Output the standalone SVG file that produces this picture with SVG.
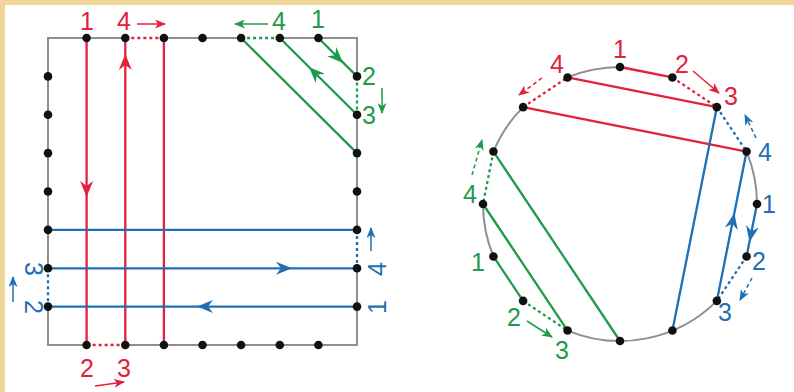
<svg xmlns="http://www.w3.org/2000/svg" xmlns:xlink="http://www.w3.org/1999/xlink" width="794" height="392" viewBox="0 0 794 392">
<style>
.edge{fill:none;stroke:#8e8e8e;stroke-width:2}
.r{stroke:#e2213a}
.g{stroke:#1f9a4a}
.b{stroke:#1f6fb2}
.ln{fill:none;stroke-width:2.3}
.dot{fill:none;stroke-width:2.3;stroke-dasharray:3 3}
.sm{fill:none;stroke-width:1.5}
.dash{stroke-dasharray:4 3}
.pt{fill:#111}
text{font-family:"Liberation Sans",Arial,sans-serif;font-size:25px;text-anchor:middle}
.tr{fill:#e2213a}.tg{fill:#1f9a4a}.tb{fill:#1f6fb2}
</style>
<defs>
<path id="ah" d="M0,0 L-16,-6.5 L-11,0 L-16,6.5 Z"/>
<marker id="mr" markerUnits="userSpaceOnUse" markerWidth="11" markerHeight="9" refX="10" refY="4.5" orient="auto"><path d="M0,0 L11,4.5 L0,9 L3,4.5 Z" fill="#e2213a"/></marker>
<marker id="mg" markerUnits="userSpaceOnUse" markerWidth="11" markerHeight="9" refX="10" refY="4.5" orient="auto"><path d="M0,0 L11,4.5 L0,9 L3,4.5 Z" fill="#1f9a4a"/></marker>
<marker id="mb" markerUnits="userSpaceOnUse" markerWidth="11" markerHeight="9" refX="10" refY="4.5" orient="auto"><path d="M0,0 L11,4.5 L0,9 L3,4.5 Z" fill="#1f6fb2"/></marker>
</defs>
<rect width="794" height="392" fill="#ffffff"/>
<rect width="794" height="5" fill="#efd597"/>
<rect width="5" height="392" fill="#efd597"/>

<g id="square">
<g id="square-outline">
<path class="edge" d="M125.3,38 L48,38 L48,268.3 M48,306.6 L48,345 L86.6,345 M125.3,345 L357,345 L357,268.3 M357,229.9 L357,114.8 M357,76.4 L357,38 L279.8,38 M241.1,38 L163.9,38"/>
</g>
<g id="square-connectors">
<line class="ln r" x1="86.6" y1="38" x2="86.6" y2="345"/>
<line class="ln r" x1="125.3" y1="38" x2="125.3" y2="345"/>
<line class="ln r" x1="163.9" y1="38" x2="163.9" y2="345"/>
<line class="dot r" x1="125.3" y1="38" x2="163.9" y2="38"/>
<line class="dot r" x1="86.6" y1="345" x2="125.3" y2="345"/>
<line class="ln g" x1="318.4" y1="38" x2="357" y2="76.4"/>
<line class="ln g" x1="279.8" y1="38" x2="357" y2="114.8"/>
<line class="ln g" x1="241.1" y1="38" x2="357" y2="153.1"/>
<line class="dot g" x1="241.1" y1="38" x2="279.8" y2="38"/>
<line class="dot g" x1="357" y1="76.4" x2="357" y2="114.8"/>
<line class="ln b" x1="48" y1="229.9" x2="357" y2="229.9"/>
<line class="ln b" x1="48" y1="268.3" x2="357" y2="268.3"/>
<line class="ln b" x1="48" y1="306.6" x2="357" y2="306.6"/>
<line class="dot b" x1="357" y1="229.9" x2="357" y2="268.3"/>
<line class="dot b" x1="48" y1="268.3" x2="48" y2="306.6"/>
<use href="#ah" fill="#e2213a" transform="translate(86.6,197) rotate(90)"/>
<use href="#ah" fill="#e2213a" transform="translate(125.3,54) rotate(-90)"/>
<use href="#ah" fill="#1f9a4a" transform="translate(343,63) rotate(45)"/>
<use href="#ah" fill="#1f9a4a" transform="translate(309,67) rotate(-135)"/>
<use href="#ah" fill="#1f6fb2" transform="translate(292,268.3)"/>
<use href="#ah" fill="#1f6fb2" transform="translate(197,306.6) rotate(180)"/>
<line class="sm r" x1="137" y1="24" x2="165" y2="24" marker-end="url(#mr)"/>
<line class="sm r" x1="95" y1="386" x2="124" y2="382" marker-end="url(#mr)"/>
<line class="sm g" x1="268" y1="24" x2="235" y2="24" marker-end="url(#mg)"/>
<line class="sm g" x1="382" y1="88" x2="382" y2="113" marker-end="url(#mg)"/>
<line class="sm b" x1="371" y1="251" x2="371" y2="228" marker-end="url(#mb)"/>
<line class="sm b" x1="13" y1="302" x2="13" y2="277" marker-end="url(#mb)"/>
</g>
<g id="square-points">
<circle class="pt" cx="86.6" cy="38" r="4.3"/><circle class="pt" cx="125.3" cy="38" r="4.3"/><circle class="pt" cx="163.9" cy="38" r="4.3"/><circle class="pt" cx="202.5" cy="38" r="4.3"/><circle class="pt" cx="241.1" cy="38" r="4.3"/><circle class="pt" cx="279.8" cy="38" r="4.3"/><circle class="pt" cx="318.4" cy="38" r="4.3"/>
<circle class="pt" cx="86.6" cy="345" r="4.3"/><circle class="pt" cx="125.3" cy="345" r="4.3"/><circle class="pt" cx="163.9" cy="345" r="4.3"/><circle class="pt" cx="202.5" cy="345" r="4.3"/><circle class="pt" cx="241.1" cy="345" r="4.3"/><circle class="pt" cx="279.8" cy="345" r="4.3"/><circle class="pt" cx="318.4" cy="345" r="4.3"/>
<circle class="pt" cx="48" cy="76.4" r="4.3"/><circle class="pt" cx="48" cy="114.8" r="4.3"/><circle class="pt" cx="48" cy="153.1" r="4.3"/><circle class="pt" cx="48" cy="191.5" r="4.3"/><circle class="pt" cx="48" cy="229.9" r="4.3"/><circle class="pt" cx="48" cy="268.3" r="4.3"/><circle class="pt" cx="48" cy="306.6" r="4.3"/>
<circle class="pt" cx="357" cy="76.4" r="4.3"/><circle class="pt" cx="357" cy="114.8" r="4.3"/><circle class="pt" cx="357" cy="153.1" r="4.3"/><circle class="pt" cx="357" cy="191.5" r="4.3"/><circle class="pt" cx="357" cy="229.9" r="4.3"/><circle class="pt" cx="357" cy="268.3" r="4.3"/><circle class="pt" cx="357" cy="306.6" r="4.3"/>
</g>
<g id="square-labels">
<text class="tr" x="87" y="30">1</text>
<text class="tr" x="124" y="30">4</text>
<text class="tg" x="279" y="30">4</text>
<text class="tg" x="318" y="28">1</text>
<text class="tg" x="369" y="85">2</text>
<text class="tg" x="369" y="124">3</text>
<text class="tr" x="87" y="377">2</text>
<text class="tr" x="124" y="377">3</text>
<text class="tb" transform="translate(377,269) rotate(-90)" y="9">4</text>
<text class="tb" transform="translate(377,307) rotate(-90)" y="9">1</text>
<text class="tb" transform="translate(34,269) rotate(90)" y="9">3</text>
<text class="tb" transform="translate(34,307) rotate(90)" y="9">2</text>
</g>
</g>

<g id="circle">
<g id="circle-outline">
<path class="edge" d="M746.57,151.57 A137,137 0 0 1 757,204 M567.57,77.43 A137,137 0 0 1 620,67 M493.43,151.57 A137,137 0 0 1 523.13,107.13 M493.43,256.43 A137,137 0 0 1 483,204 M716.87,300.87 A137,137 0 0 1 567.57,330.57"/>
</g>
<g id="circle-connectors">
<line class="ln r" x1="620" y1="67" x2="672.43" y2="77.43"/>
<line class="ln r" x1="567.57" y1="77.43" x2="716.87" y2="107.13"/>
<line class="ln r" x1="523.13" y1="107.13" x2="746.57" y2="151.57"/>
<line class="dot r" x1="672.43" y1="77.43" x2="716.87" y2="107.13"/>
<line class="dot r" x1="523.13" y1="107.13" x2="567.57" y2="77.43"/>
<line class="ln g" x1="493.43" y1="256.43" x2="523.13" y2="300.87"/>
<line class="ln g" x1="567.57" y1="330.57" x2="483" y2="204"/>
<line class="ln g" x1="493.43" y1="151.57" x2="620" y2="341"/>
<line class="dot g" x1="493.43" y1="151.57" x2="483" y2="204"/>
<line class="dot g" x1="523.13" y1="300.87" x2="567.57" y2="330.57"/>
<line class="ln b" x1="757" y1="204" x2="746.57" y2="256.43"/>
<line class="ln b" x1="716.87" y1="300.87" x2="746.57" y2="151.57"/>
<line class="ln b" x1="672.43" y1="330.57" x2="716.87" y2="107.13"/>
<line class="dot b" x1="716.87" y1="107.13" x2="746.57" y2="151.57"/>
<line class="dot b" x1="746.57" y1="256.43" x2="716.87" y2="300.87"/>
<use href="#ah" fill="#1f6fb2" transform="translate(749.4,242) rotate(101.25)"/>
<use href="#ah" fill="#1f6fb2" transform="translate(734.4,213) rotate(-78.75)"/>
<line class="sm r" x1="693" y1="71" x2="719" y2="93" marker-end="url(#mr)"/>
<line class="sm r dash" x1="542" y1="78" x2="519" y2="95" marker-end="url(#mr)"/>
<line class="sm g dash" x1="472" y1="175" x2="482" y2="140" marker-end="url(#mg)"/>
<line class="sm g" x1="527" y1="321" x2="552" y2="337" marker-end="url(#mg)"/>
<line class="sm b dash" x1="756" y1="138" x2="745" y2="115" marker-end="url(#mb)"/>
<line class="sm b dash" x1="752" y1="278" x2="740" y2="300" marker-end="url(#mb)"/>
</g>
<g id="circle-points">
<circle class="pt" cx="757" cy="204" r="4.3"/><circle class="pt" cx="746.57" cy="256.43" r="4.3"/><circle class="pt" cx="716.87" cy="300.87" r="4.3"/><circle class="pt" cx="672.43" cy="330.57" r="4.3"/>
<circle class="pt" cx="620" cy="341" r="4.3"/><circle class="pt" cx="567.57" cy="330.57" r="4.3"/><circle class="pt" cx="523.13" cy="300.87" r="4.3"/><circle class="pt" cx="493.43" cy="256.43" r="4.3"/>
<circle class="pt" cx="483" cy="204" r="4.3"/><circle class="pt" cx="493.43" cy="151.57" r="4.3"/><circle class="pt" cx="523.13" cy="107.13" r="4.3"/><circle class="pt" cx="567.57" cy="77.43" r="4.3"/>
<circle class="pt" cx="620" cy="67" r="4.3"/><circle class="pt" cx="672.43" cy="77.43" r="4.3"/><circle class="pt" cx="716.87" cy="107.13" r="4.3"/><circle class="pt" cx="746.57" cy="151.57" r="4.3"/>
</g>
<g id="circle-labels">
<text class="tr" x="620" y="58">1</text>
<text class="tr" x="682" y="73">2</text>
<text class="tr" x="731" y="105">3</text>
<text class="tr" x="557" y="73">4</text>
<text class="tb" x="765" y="161">4</text>
<text class="tb" x="769" y="213">1</text>
<text class="tb" x="759" y="270">2</text>
<text class="tb" x="725" y="321">3</text>
<text class="tg" x="470" y="203">4</text>
<text class="tg" x="478" y="271">1</text>
<text class="tg" x="514" y="326">2</text>
<text class="tg" x="562" y="359">3</text>
</g>
</g>
</svg>
